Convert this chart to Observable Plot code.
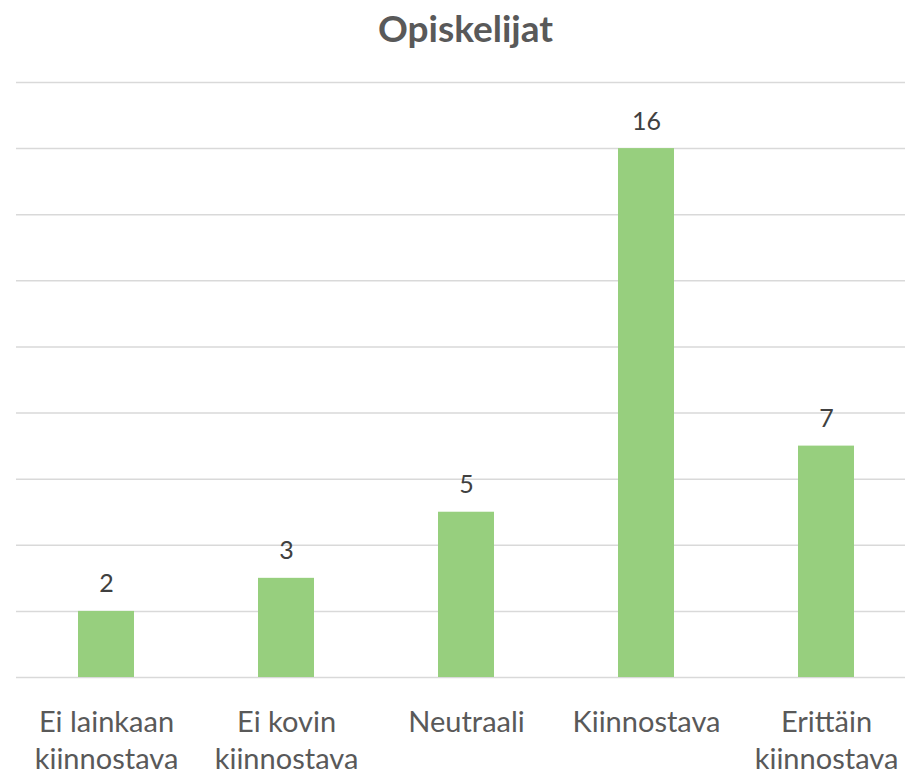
<!DOCTYPE html>
<html><head><meta charset="utf-8">
<script src="https://cdn.jsdelivr.net/npm/d3@7"></script>
<script src="https://cdn.jsdelivr.net/npm/@observablehq/plot@0.6"></script>
<style>
body{margin:0;background:#fff;}
#title{height:60px;line-height:56px;text-align:center;font-family:Lato;font-weight:bold;font-size:37px;color:#595959;padding-left:26px;box-sizing:border-box;width:905px;}
#chart svg{display:block;}
</style></head><body>
<div id="title">Opiskelijat</div>
<div id="chart"></div>
<script>
const categories = ["Ei lainkaan\nkiinnostava", "Ei kovin\nkiinnostava", "Neutraali", "Kiinnostava", "Erittäin\nkiinnostava"];
const values = [2, 3, 5, 16, 7];
const gridTicks = [0, 2, 4, 6, 8, 10, 12, 14, 16, 18];
const data = categories.map((c, i) => ({category: c, value: values[i]}));
const chart = Plot.plot({
  width: 905, height: 720,
  marginTop: 22, marginBottom: 103, marginLeft: 16, marginRight: 0,
  x: {domain: categories, range: [16, 916], paddingInner: 0.689, paddingOuter: 0.3445, axis: null},
  y: {domain: [0, 18], axis: null},
  style: {fontFamily: "Lato", background: "#fff"},
  marks: [
    Plot.ruleY(gridTicks, {stroke: "#d9d9d9", strokeWidth: 1.5}),
    Plot.barY(data, {x: "category", y: "value", fill: "#97cf7e"}),
    Plot.text(data, {x: "category", y: "value", text: d => String(d.value), lineAnchor: "bottom", dy: -19, fontSize: 25, fill: "#404040"}),
    Plot.text(data, {x: "category", text: "category", frameAnchor: "bottom", lineAnchor: "top", dy: 28, fontSize: 29, lineHeight: 1.28, fill: "#595959"})
  ]
});
document.getElementById("chart").append(chart);
</script>
</body></html>
